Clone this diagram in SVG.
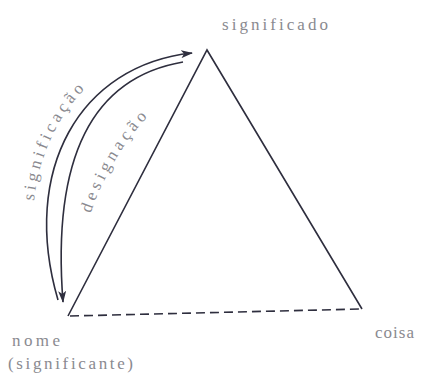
<svg xmlns="http://www.w3.org/2000/svg" width="426" height="377" viewBox="0 0 426 377">
<style>
.edge{fill:none;stroke:#2e2e3e;stroke-width:1.6}
.lbl{font-family:"Liberation Serif","DejaVu Serif",serif;font-size:17px;fill:#8a8a90}
</style>
<defs>
<marker id="ah" viewBox="0 0 12 8" refX="11" refY="4" markerWidth="12" markerHeight="8" markerUnits="userSpaceOnUse" orient="auto">
<path d="M0,0 L12,4 L0,8 L3,4 Z" fill="#2e2e3e"/>
</marker>
<path id="tp1" d="M 44 300 C 5 170 70 52 190 40"/>
<path id="tp2" d="M 80 250 Q 102 155 165 100"/>
</defs>
<rect width="426" height="377" fill="#ffffff"/>
<g id="connectors">
<path class="edge" d="M 68 316 L 207 50 L 362 309"/>
<path class="edge" d="M 70 316 L 362 309" stroke-dasharray="9 5"/>
<path class="edge" d="M 58 300 C 20 170 80 65 192 53" marker-end="url(#ah)"/>
<path class="edge" d="M 183 62 C 90 78 52 160 63 302" marker-end="url(#ah)"/>
</g>
<g id="label-significacao">
<text class="lbl"><textPath href="#tp1" startOffset="100" textLength="125" lengthAdjust="spacing">significação</textPath></text>
</g>
<g id="label-designacao">
<text class="lbl"><textPath href="#tp2" startOffset="38" textLength="113" lengthAdjust="spacing">designação</textPath></text>
</g>
<g id="node-significado">
<text class="lbl" x="222" y="30" textLength="106" lengthAdjust="spacing">significado</text>
</g>
<g id="node-nome">
<text class="lbl" x="12" y="346" textLength="48" lengthAdjust="spacing">nome</text>
<text class="lbl" x="8" y="369" textLength="125" lengthAdjust="spacing">(significante)</text>
</g>
<g id="node-coisa">
<text class="lbl" x="375" y="338" textLength="39" lengthAdjust="spacing">coisa</text>
</g>
</svg>
